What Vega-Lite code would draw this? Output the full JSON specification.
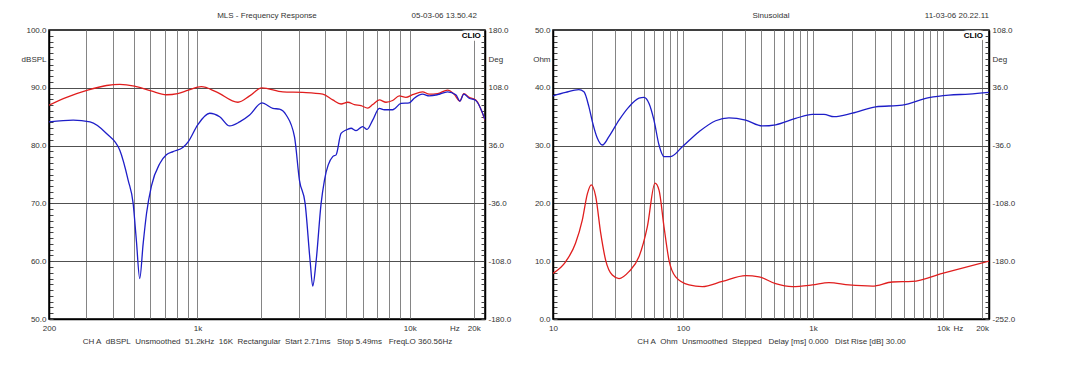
{
  "$schema": "https://vega.github.io/schema/vega-lite/v6.json",
  "background": "white",
  "padding": {"left": 20, "top": 10, "right": 10, "bottom": 5},
  "config": {
    "font": "Liberation Sans",
    "view": {"stroke": "black", "strokeWidth": 1.5},
    "axis": {"labelFontSize": 8, "labelColor": "#333333", "labelFont": "Liberation Sans", "titleFont": "Liberation Sans", "titleFontSize": 8, "titleFontWeight": "normal", "titleColor": "#333333", "domainColor": "black", "domainWidth": 1.5},
    "text": {"font": "Liberation Sans", "fontSize": 8}
  },
  "datasets": {
    "fr": [
      {"trace": "A", "freq": 200, "spl": 87.0}, {"trace": "A", "freq": 242, "spl": 88.35}, {"trace": "A", "freq": 304, "spl": 89.6}, {"trace": "A", "freq": 373, "spl": 90.4}, {"trace": "A", "freq": 431, "spl": 90.6}, {"trace": "A", "freq": 505, "spl": 90.3}, {"trace": "A", "freq": 605, "spl": 89.45}, {"trace": "A", "freq": 714, "spl": 88.8}, {"trace": "A", "freq": 807, "spl": 89.0}, {"trace": "A", "freq": 906, "spl": 89.6}, {"trace": "A", "freq": 1043, "spl": 90.2}, {"trace": "A", "freq": 1227, "spl": 89.3}, {"trace": "A", "freq": 1552, "spl": 87.5}, {"trace": "A", "freq": 1761, "spl": 88.6}, {"trace": "A", "freq": 2012, "spl": 90.0}, {"trace": "A", "freq": 2524, "spl": 89.3}, {"trace": "A", "freq": 3134, "spl": 89.2}, {"trace": "A", "freq": 3891, "spl": 88.9}, {"trace": "A", "freq": 4336, "spl": 87.9}, {"trace": "A", "freq": 4745, "spl": 87.2}, {"trace": "A", "freq": 5102, "spl": 87.5}, {"trace": "A", "freq": 5483, "spl": 87.1}, {"trace": "A", "freq": 5892, "spl": 86.9}, {"trace": "A", "freq": 6334, "spl": 86.5}, {"trace": "A", "freq": 6687, "spl": 87.1}, {"trace": "A", "freq": 7187, "spl": 87.9}, {"trace": "A", "freq": 7726, "spl": 87.5}, {"trace": "A", "freq": 8302, "spl": 87.8}, {"trace": "A", "freq": 8924, "spl": 88.6}, {"trace": "A", "freq": 9590, "spl": 88.35}, {"trace": "A", "freq": 10306, "spl": 88.8}, {"trace": "A", "freq": 11487, "spl": 89.3}, {"trace": "A", "freq": 12347, "spl": 88.9}, {"trace": "A", "freq": 13513, "spl": 89.0}, {"trace": "A", "freq": 15057, "spl": 89.6}, {"trace": "A", "freq": 16183, "spl": 88.9}, {"trace": "A", "freq": 17204, "spl": 87.7}, {"trace": "A", "freq": 17965, "spl": 89.0}, {"trace": "A", "freq": 19024, "spl": 88.35}, {"trace": "A", "freq": 20451, "spl": 87.9}, {"trace": "A", "freq": 22600, "spl": 84.4},
      {"trace": "B", "freq": 200, "spl": 84.1}, {"trace": "B", "freq": 260, "spl": 84.4}, {"trace": "B", "freq": 312, "spl": 84.1}, {"trace": "B", "freq": 373, "spl": 82.1}, {"trace": "B", "freq": 431, "spl": 79.2}, {"trace": "B", "freq": 472, "spl": 74.0}, {"trace": "B", "freq": 498, "spl": 70.0}, {"trace": "B", "freq": 516, "spl": 63.5}, {"trace": "B", "freq": 535, "spl": 57.0}, {"trace": "B", "freq": 555, "spl": 63.0}, {"trace": "B", "freq": 576, "spl": 68.3}, {"trace": "B", "freq": 607, "spl": 73.0}, {"trace": "B", "freq": 665, "spl": 76.9}, {"trace": "B", "freq": 714, "spl": 78.4}, {"trace": "B", "freq": 768, "spl": 78.95}, {"trace": "B", "freq": 856, "spl": 79.7}, {"trace": "B", "freq": 906, "spl": 80.7}, {"trace": "B", "freq": 1003, "spl": 83.6}, {"trace": "B", "freq": 1142, "spl": 85.6}, {"trace": "B", "freq": 1273, "spl": 85.0}, {"trace": "B", "freq": 1418, "spl": 83.4}, {"trace": "B", "freq": 1580, "spl": 84.1}, {"trace": "B", "freq": 1761, "spl": 85.3}, {"trace": "B", "freq": 2012, "spl": 87.4}, {"trace": "B", "freq": 2265, "spl": 86.45}, {"trace": "B", "freq": 2435, "spl": 86.3}, {"trace": "B", "freq": 2617, "spl": 85.3}, {"trace": "B", "freq": 2865, "spl": 81.5}, {"trace": "B", "freq": 3023, "spl": 74.0}, {"trace": "B", "freq": 3214, "spl": 70.0}, {"trace": "B", "freq": 3394, "spl": 60.0}, {"trace": "B", "freq": 3491, "spl": 55.7}, {"trace": "B", "freq": 3621, "spl": 60.0}, {"trace": "B", "freq": 3823, "spl": 70.0}, {"trace": "B", "freq": 3963, "spl": 74.0}, {"trace": "B", "freq": 4336, "spl": 78.1}, {"trace": "B", "freq": 4497, "spl": 78.4}, {"trace": "B", "freq": 4745, "spl": 82.1}, {"trace": "B", "freq": 5011, "spl": 82.7}, {"trace": "B", "freq": 5290, "spl": 83.0}, {"trace": "B", "freq": 5584, "spl": 82.6}, {"trace": "B", "freq": 5999, "spl": 83.3}, {"trace": "B", "freq": 6287, "spl": 82.8}, {"trace": "B", "freq": 6687, "spl": 84.4}, {"trace": "B", "freq": 7187, "spl": 86.45}, {"trace": "B", "freq": 7589, "spl": 86.2}, {"trace": "B", "freq": 8302, "spl": 86.2}, {"trace": "B", "freq": 9085, "spl": 87.3}, {"trace": "B", "freq": 9940, "spl": 87.4}, {"trace": "B", "freq": 10495, "spl": 88.2}, {"trace": "B", "freq": 11487, "spl": 88.9}, {"trace": "B", "freq": 12347, "spl": 88.6}, {"trace": "B", "freq": 13513, "spl": 88.8}, {"trace": "B", "freq": 15057, "spl": 89.3}, {"trace": "B", "freq": 16472, "spl": 88.8}, {"trace": "B", "freq": 17204, "spl": 87.7}, {"trace": "B", "freq": 17965, "spl": 88.9}, {"trace": "B", "freq": 19024, "spl": 88.2}, {"trace": "B", "freq": 20451, "spl": 87.8}, {"trace": "B", "freq": 22600, "spl": 84.5}
    ],
    "imp": [
      {"trace": "A", "freq": 10, "ohm": 7.9}, {"trace": "A", "freq": 12.5, "ohm": 9.9}, {"trace": "A", "freq": 14.9, "ohm": 13.1}, {"trace": "A", "freq": 16.8, "ohm": 17.1}, {"trace": "A", "freq": 18.4, "ohm": 21.7}, {"trace": "A", "freq": 19.7, "ohm": 23.2}, {"trace": "A", "freq": 21.3, "ohm": 21.2}, {"trace": "A", "freq": 23.3, "ohm": 14.8}, {"trace": "A", "freq": 25.4, "ohm": 10.2}, {"trace": "A", "freq": 28.6, "ohm": 7.6}, {"trace": "A", "freq": 32.2, "ohm": 7.0}, {"trace": "A", "freq": 38.4, "ohm": 8.2}, {"trace": "A", "freq": 45.9, "ohm": 10.8}, {"trace": "A", "freq": 53.2, "ohm": 16.0}, {"trace": "A", "freq": 60.9, "ohm": 23.5}, {"trace": "A", "freq": 65.4, "ohm": 22.3}, {"trace": "A", "freq": 71.4, "ohm": 16.0}, {"trace": "A", "freq": 78.0, "ohm": 10.2}, {"trace": "A", "freq": 87.8, "ohm": 7.3}, {"trace": "A", "freq": 111.3, "ohm": 5.9}, {"trace": "A", "freq": 140.8, "ohm": 5.6}, {"trace": "A", "freq": 200.7, "ohm": 6.5}, {"trace": "A", "freq": 303.5, "ohm": 7.5}, {"trace": "A", "freq": 384.3, "ohm": 7.3}, {"trace": "A", "freq": 516.4, "ohm": 6.1}, {"trace": "A", "freq": 693.4, "ohm": 5.6}, {"trace": "A", "freq": 988.5, "ohm": 5.9}, {"trace": "A", "freq": 1328, "ohm": 6.3}, {"trace": "A", "freq": 1892, "ohm": 5.9}, {"trace": "A", "freq": 2860, "ohm": 5.7}, {"trace": "A", "freq": 4075, "ohm": 6.4}, {"trace": "A", "freq": 5807, "ohm": 6.5}, {"trace": "A", "freq": 9886, "ohm": 7.9}, {"trace": "A", "freq": 22600, "ohm": 10.0},
      {"trace": "B", "freq": 10, "ohm": 38.6}, {"trace": "B", "freq": 12.5, "ohm": 39.2}, {"trace": "B", "freq": 15.8, "ohm": 39.7}, {"trace": "B", "freq": 17.3, "ohm": 39.3}, {"trace": "B", "freq": 18.9, "ohm": 36.7}, {"trace": "B", "freq": 20.1, "ohm": 34.1}, {"trace": "B", "freq": 21.9, "ohm": 31.3}, {"trace": "B", "freq": 24.0, "ohm": 30.1}, {"trace": "B", "freq": 27.0, "ohm": 31.6}, {"trace": "B", "freq": 32.2, "ohm": 34.4}, {"trace": "B", "freq": 38.4, "ohm": 36.7}, {"trace": "B", "freq": 45.9, "ohm": 38.2}, {"trace": "B", "freq": 50.1, "ohm": 38.35}, {"trace": "B", "freq": 54.8, "ohm": 37.3}, {"trace": "B", "freq": 59.8, "ohm": 34.4}, {"trace": "B", "freq": 65.4, "ohm": 30.1}, {"trace": "B", "freq": 71.4, "ohm": 28.1}, {"trace": "B", "freq": 80.4, "ohm": 28.1}, {"trace": "B", "freq": 98.8, "ohm": 29.8}, {"trace": "B", "freq": 132.8, "ohm": 32.4}, {"trace": "B", "freq": 178.4, "ohm": 34.3}, {"trace": "B", "freq": 225.9, "ohm": 34.8}, {"trace": "B", "freq": 303.5, "ohm": 34.4}, {"trace": "B", "freq": 407.4, "ohm": 33.4}, {"trace": "B", "freq": 516.4, "ohm": 33.6}, {"trace": "B", "freq": 735.6, "ohm": 34.7}, {"trace": "B", "freq": 988.5, "ohm": 35.4}, {"trace": "B", "freq": 1215, "ohm": 35.4}, {"trace": "B", "freq": 1450, "ohm": 35.0}, {"trace": "B", "freq": 2007, "ohm": 35.6}, {"trace": "B", "freq": 3034, "ohm": 36.7}, {"trace": "B", "freq": 4867, "ohm": 37.0}, {"trace": "B", "freq": 7801, "ohm": 38.3}, {"trace": "B", "freq": 11121, "ohm": 38.75}, {"trace": "B", "freq": 15849, "ohm": 38.9}, {"trace": "B", "freq": 22600, "ohm": 39.2}
    ]
  },
  "spacing": 19,
  "hconcat": [
    {
      "width": 436,
      "height": 289,
      "resolve": {"axis": {"y": "independent"}},
      "layer": [
        {
          "data": {"name": "fr"},
          "mark": {"type": "line", "interpolate": "monotone", "strokeWidth": 1.3, "clip": true},
          "encoding": {
            "x": {"field": "freq", "type": "quantitative", "scale": {"type": "log", "domain": [200, 22600], "nice": false},
              "axis": {"values": [200, 300, 400, 500, 600, 700, 800, 900, 1000, 2000, 3000, 4000, 5000, 6000, 7000, 8000, 9000, 10000, 16200, 20000],
                "labelExpr": "datum.value == 200 ? '200' : datum.value == 1000 ? '1k' : datum.value == 10000 ? '10k' : datum.value == 16200 ? 'Hz' : datum.value == 20000 ? '20k' : ''",
                "labelFlush": false, "labelOverlap": false, "labelPadding": 5, "ticks": false,
                "grid": true, "gridColor": "#858585", "gridOpacity": {"condition": {"test": "datum.value == 16200 || datum.value == 200", "value": 0}, "value": 1},
                "title": "CH A\u00a0\u00a0dBSPL\u00a0\u00a0Unsmoothed\u00a0\u00a051.2kHz\u00a0\u00a016K\u00a0\u00a0Rectangular\u00a0\u00a0Start 2.71ms\u00a0\u00a0\u00a0Stop 5.49ms\u00a0\u00a0\u00a0FreqLO 360.56Hz", "titlePadding": 5}},
            "y": {"field": "spl", "type": "quantitative", "scale": {"domain": [50, 100], "nice": false, "zero": false},
              "axis": {"orient": "left", "values": [50,51,52,53,54,55,56,57,58,59,60,61,62,63,64,65,66,67,68,69,70,71,72,73,74,75,76,77,78,79,80,81,82,83,84,85,86,87,88,89,90,91,92,93,94,95,96,97,98,99,100],
                "labelExpr": "datum.value % 10 == 0 ? format(datum.value, '.1f') : ''",
                "labelOverlap": false, "labelPadding": 7, "tickSize": -4, "tickColor": "#444444", "labelFlush": false,
                "grid": true, "gridColor": "#505050", "gridOpacity": {"condition": {"test": "datum.value % 10 != 0 || datum.value == 50 || datum.value == 100", "value": 0}, "value": 1},
                "title": "dBSPL", "titleAngle": 0, "titleAlign": "right", "titleBaseline": "middle", "titleX": -3, "titleY": 29}},
            "color": {"field": "trace", "type": "nominal", "scale": {"domain": ["A", "B"], "range": ["#e01e1e", "#1e1ec8"]}, "legend": null}
          }
        },
        {
          "data": {"name": "fr"},
          "mark": {"type": "point", "opacity": 0},
          "encoding": {
            "x": {"field": "freq", "type": "quantitative", "scale": {"type": "log", "domain": [200, 22600], "nice": false}},
            "y": {"field": "spl", "type": "quantitative", "scale": {"domain": [50, 100], "nice": false, "zero": false},
              "axis": {"orient": "right", "values": [50,51,52,53,54,55,56,57,58,59,60,61,62,63,64,65,66,67,68,69,70,71,72,73,74,75,76,77,78,79,80,81,82,83,84,85,86,87,88,89,90,91,92,93,94,95,96,97,98,99,100],
                "labelExpr": "datum.value % 10 == 0 ? (datum.value < 75 ? '-' : '') + format(abs((datum.value - 75) * 7.2), '.1f') : ''",
                "labelOverlap": false, "labelFlush": false, "labelPadding": 7, "tickSize": -4, "tickColor": "#444444", "grid": false,
                "title": "Deg", "titleAngle": 0, "titleAlign": "left", "titleBaseline": "middle", "titleX": 3, "titleY": 29}}
          }
        },
        {
          "data": {"values": [{"t": "CLIO"}]},
          "mark": {"type": "text", "align": "right", "baseline": "middle", "fontWeight": "bold", "fontSize": 8, "fill": "white", "stroke": "white", "strokeWidth": 5},
          "encoding": {
            "x": {"datum": 21600, "type": "quantitative", "scale": {"type": "log", "domain": [200, 22600], "nice": false}},
            "y": {"datum": 99.0, "type": "quantitative", "scale": {"domain": [50, 100], "nice": false, "zero": false}, "axis": null},
            "text": {"field": "t"}
          }
        },
        {
          "data": {"values": [{"t": "CLIO"}]},
          "mark": {"type": "text", "align": "right", "baseline": "middle", "fontWeight": "bold", "fontSize": 8, "fill": "black"},
          "encoding": {
            "x": {"datum": 21600, "type": "quantitative", "scale": {"type": "log", "domain": [200, 22600], "nice": false}},
            "y": {"datum": 99.0, "type": "quantitative", "scale": {"domain": [50, 100], "nice": false, "zero": false}, "axis": null},
            "text": {"field": "t"}
          }
        },
        {
          "data": {"values": [{"t": "05-03-06 13.50.42", "pos": 20700, "al": "right"}, {"t": "MLS - Frequency Response", "pos": 2126, "al": "center"}]},
          "mark": {"type": "text", "baseline": "middle", "fontSize": 8, "fill": "#333333", "align": {"expr": "datum.al"}},
          "encoding": {
            "x": {"field": "pos", "type": "quantitative", "scale": {"type": "log", "domain": [200, 22600], "nice": false}},
            "y": {"datum": 102.5, "type": "quantitative", "scale": {"domain": [50, 100], "nice": false, "zero": false}, "axis": null},
            "text": {"field": "t"}
          }
        }
      ]
    },
    {
      "width": 436,
      "height": 289,
      "resolve": {"axis": {"y": "independent"}},
      "layer": [
        {
          "data": {"name": "imp"},
          "mark": {"type": "line", "interpolate": "monotone", "strokeWidth": 1.3, "clip": true},
          "encoding": {
            "x": {"field": "freq", "type": "quantitative", "scale": {"type": "log", "domain": [10, 22600], "nice": false},
              "axis": {"values": [10, 20, 30, 40, 50, 60, 70, 80, 90, 100, 200, 300, 400, 500, 600, 700, 800, 900, 1000, 2000, 3000, 4000, 5000, 6000, 7000, 8000, 9000, 10000, 13000, 20000],
                "labelExpr": "datum.value == 10 ? '10' : datum.value == 100 ? '100' : datum.value == 1000 ? '1k' : datum.value == 10000 ? '10k' : datum.value == 13000 ? 'Hz' : datum.value == 20000 ? '20k' : ''",
                "labelFlush": false, "labelOverlap": false, "labelPadding": 5, "ticks": false,
                "grid": true, "gridColor": "#858585", "gridOpacity": {"condition": {"test": "datum.value == 13000 || datum.value == 10", "value": 0}, "value": 1},
                "title": "CH A\u00a0\u00a0Ohm\u00a0\u00a0Unsmoothed\u00a0\u00a0Stepped\u00a0\u00a0\u00a0Delay [ms] 0.000\u00a0\u00a0\u00a0Dist Rise [dB] 30.00", "titlePadding": 5}},
            "y": {"field": "ohm", "type": "quantitative", "scale": {"domain": [0, 50], "nice": false},
              "axis": {"orient": "left", "values": [0,1,2,3,4,5,6,7,8,9,10,11,12,13,14,15,16,17,18,19,20,21,22,23,24,25,26,27,28,29,30,31,32,33,34,35,36,37,38,39,40,41,42,43,44,45,46,47,48,49,50],
                "labelExpr": "datum.value % 10 == 0 ? format(datum.value, '.1f') : ''",
                "labelOverlap": false, "labelPadding": 7, "tickSize": -4, "tickColor": "#444444", "labelFlush": false,
                "grid": true, "gridColor": "#505050", "gridOpacity": {"condition": {"test": "datum.value % 10 != 0 || datum.value == 0 || datum.value == 50", "value": 0}, "value": 1},
                "title": "Ohm", "titleAngle": 0, "titleAlign": "right", "titleBaseline": "middle", "titleX": -3, "titleY": 29}},
            "color": {"field": "trace", "type": "nominal", "scale": {"domain": ["A", "B"], "range": ["#e01e1e", "#1e1ec8"]}, "legend": null}
          }
        },
        {
          "data": {"name": "imp"},
          "mark": {"type": "point", "opacity": 0},
          "encoding": {
            "x": {"field": "freq", "type": "quantitative", "scale": {"type": "log", "domain": [10, 22600], "nice": false}},
            "y": {"field": "ohm", "type": "quantitative", "scale": {"domain": [0, 50], "nice": false},
              "axis": {"orient": "right", "values": [0,1,2,3,4,5,6,7,8,9,10,11,12,13,14,15,16,17,18,19,20,21,22,23,24,25,26,27,28,29,30,31,32,33,34,35,36,37,38,39,40,41,42,43,44,45,46,47,48,49,50],
                "labelExpr": "datum.value % 10 == 0 ? (datum.value < 35 ? '-' : '') + format(abs(datum.value * 7.2 - 252), '.1f') : ''",
                "labelOverlap": false, "labelFlush": false, "labelPadding": 7, "tickSize": -4, "tickColor": "#444444", "grid": false,
                "title": "Deg", "titleAngle": 0, "titleAlign": "left", "titleBaseline": "middle", "titleX": 3, "titleY": 29}}
          }
        },
        {
          "data": {"values": [{"t": "CLIO"}]},
          "mark": {"type": "text", "align": "right", "baseline": "middle", "fontWeight": "bold", "fontSize": 8, "fill": "white", "stroke": "white", "strokeWidth": 5},
          "encoding": {
            "x": {"datum": 20300, "type": "quantitative", "scale": {"type": "log", "domain": [10, 22600], "nice": false}},
            "y": {"datum": 49.0, "type": "quantitative", "scale": {"domain": [0, 50], "nice": false}, "axis": null},
            "text": {"field": "t"}
          }
        },
        {
          "data": {"values": [{"t": "CLIO"}]},
          "mark": {"type": "text", "align": "right", "baseline": "middle", "fontWeight": "bold", "fontSize": 8, "fill": "black"},
          "encoding": {
            "x": {"datum": 20300, "type": "quantitative", "scale": {"type": "log", "domain": [10, 22600], "nice": false}},
            "y": {"datum": 49.0, "type": "quantitative", "scale": {"domain": [0, 50], "nice": false}, "axis": null},
            "text": {"field": "t"}
          }
        },
        {
          "data": {"values": [{"t": "11-03-06 20.22.11", "pos": 22600, "al": "right"}, {"t": "Sinusoidal", "pos": 475, "al": "center"}]},
          "mark": {"type": "text", "baseline": "middle", "fontSize": 8, "fill": "#333333", "align": {"expr": "datum.al"}},
          "encoding": {
            "x": {"field": "pos", "type": "quantitative", "scale": {"type": "log", "domain": [10, 22600], "nice": false}},
            "y": {"datum": 52.5, "type": "quantitative", "scale": {"domain": [0, 50], "nice": false}, "axis": null},
            "text": {"field": "t"}
          }
        }
      ]
    }
  ]
}
